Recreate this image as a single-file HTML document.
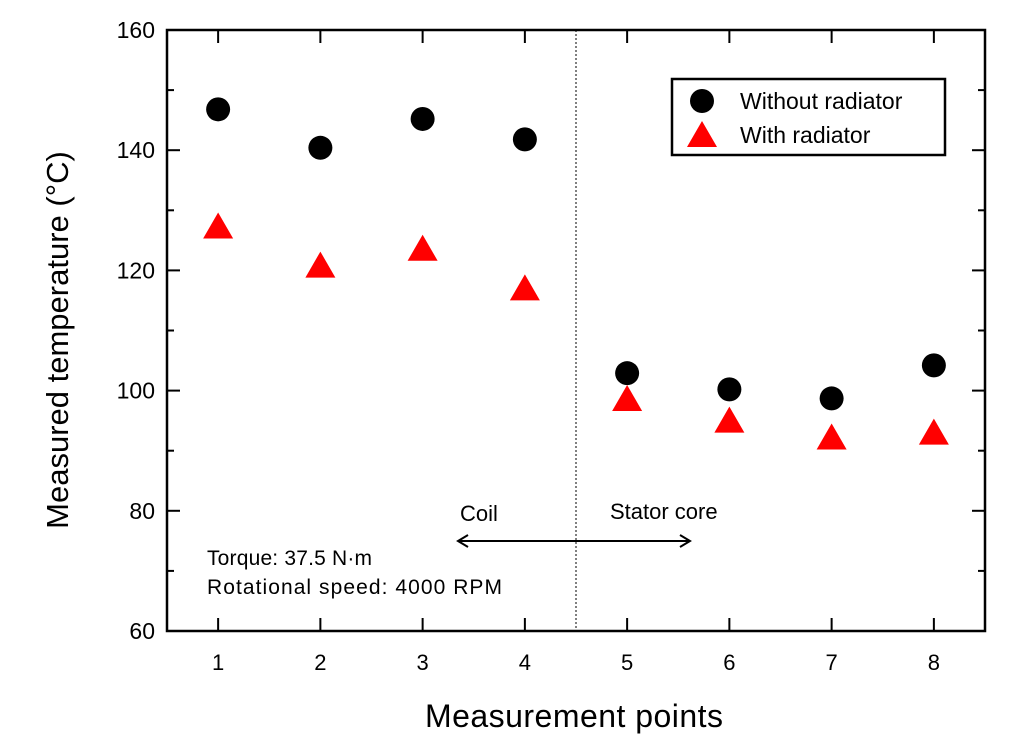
<!DOCTYPE html>
<html><head><meta charset="utf-8"><style>
body{margin:0;background:#fff;}
svg text{font-family:"Liberation Sans",Arial,sans-serif;}
</style></head><body>
<svg id="chart" width="1024" height="747" viewBox="0 0 1024 747" xmlns="http://www.w3.org/2000/svg">
<g id="marks"></g>
</svg>
<script>
const categories=[1,2,3,4,5,6,7,8];
const withoutRadiator=[146.8,140.4,145.2,141.8,102.9,100.2,98.7,104.2];
const withRadiator=[127.3,120.8,123.6,117.0,98.6,95.0,92.2,93.0];
const yTicks=[60,80,100,120,140,160];
const xTicks=[1,2,3,4,5,6,7,8];
const NS="http://www.w3.org/2000/svg";
const L=167,R=985,T=30,B=631;
function xs(v){return L+(v-0.5)/8*(R-L);}
function ys(v){return B-(v-60)/100*(B-T);}
const svg=document.getElementById('chart');
function mk(tag,attrs,parent){const e=document.createElementNS(NS,tag);for(const k in attrs)e.setAttribute(k,attrs[k]);(parent||svg).appendChild(e);return e;}
const frame=mk('rect',{x:L,y:T,width:R-L,height:B-T,fill:'none',stroke:'#000','stroke-width':2.5});


const div=mk('line',{x1:xs(4.5),x2:xs(4.5),y1:T,y2:B,stroke:'#000','stroke-width':1,'stroke-dasharray':'2,2'});


yTicks.forEach(v=>{
 const y=ys(v);
 mk('line',{x1:L,x2:L+13,y1:y,y2:y,stroke:'#000','stroke-width':2});
 mk('line',{x1:R,x2:R-13,y1:y,y2:y,stroke:'#000','stroke-width':2});
 if(v<160){const ym=ys(v+10);
  mk('line',{x1:L,x2:L+7,y1:ym,y2:ym,stroke:'#000','stroke-width':2});
  mk('line',{x1:R,x2:R-7,y1:ym,y2:ym,stroke:'#000','stroke-width':2});}
 const t=mk('text',{x:L-12,y:y+8,'font-size':23,'text-anchor':'end'});t.textContent=v;
 
 
});
xTicks.forEach(v=>{
 const x=xs(v);
 mk('line',{x1:x,x2:x,y1:B,y2:B-13,stroke:'#000','stroke-width':2});
 mk('line',{x1:x,x2:x,y1:T,y2:T+13,stroke:'#000','stroke-width':2});
 const t=mk('text',{x:x,y:B+39,'font-size':22,'text-anchor':'middle'});t.textContent=v;
 
 
});
categories.forEach((c,i)=>{
 const p=mk('circle',{cx:xs(c),cy:ys(withoutRadiator[i]),r:12,fill:'#000'});
 
 
 const x=xs(c),y=ys(withRadiator[i]);
 const tr=mk('polygon',{points:`${x-15},${y+12} ${x+15},${y+12} ${x},${y-14}`,fill:'#f00'});
 
 
});
</script>
<svg width="1024" height="747" style="position:absolute;left:0;top:0" xmlns="http://www.w3.org/2000/svg">
<g>
<rect x="672" y="79" width="273" height="76" fill="#fff" stroke="#000" stroke-width="2.5"/>
<circle cx="702" cy="101" r="12" fill="#000"/>
<text x="740" y="109" font-size="23">Without radiator</text>
<polygon points="687,147 717,147 702,121" fill="#f00"/>
<text x="740" y="143" font-size="23">With radiator</text>
</g>
<text x="460" y="521" font-size="22">Coil</text>
<text x="610" y="519" font-size="22">Stator core</text>
<g stroke="#000" stroke-width="2" fill="none">
<line x1="458" y1="541" x2="690" y2="541"/>
<polyline points="468,535 458,541 468,547"/>
<polyline points="680,535 690,541 680,547"/>
</g>
<text x="207" y="565" font-size="21" textLength="165">Torque: 37.5 N·m</text>
<text x="207" y="594" font-size="21" textLength="295">Rotational speed:  4000  RPM</text>
<text x="574" y="727" font-size="32" textLength="298" text-anchor="middle">Measurement points</text>
<text transform="translate(68,340) rotate(-90)" font-size="31" text-anchor="middle">Measured temperature (°C)</text>
</svg>
</body></html>
